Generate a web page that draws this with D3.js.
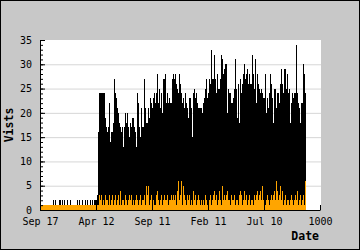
<!DOCTYPE html>
<html>
<head>
<meta charset="utf-8">
<script src="https://cdn.jsdelivr.net/npm/d3@7"></script>
<style>
  body { margin: 0; background: #c8c8c8; }
  svg { display: block; }
</style>
</head>
<body>
<svg id="chart" width="360" height="250"></svg>
<script>
// x axis runs in days 0..1000, one sample every 1000/280 days
const tickDays = [0, 200, 400, 600, 800, 1000];
const tickLabels = ["Sep 17", "Apr 12", "Sep 11", "Feb 11", "Jul 10", "1000"];
const sampleDays = 1000 / 280;

// total visits per sample (black)
const visits = [
  1,1,1,1,1,1,1,1,1,1,1,1,2,1,2,1,1,1,2,2,1,2,1,2,1,1,2,1,1,2,1,1,1,1,1,1,2,1,2,1,1,2,1,1,2,1,2,1,1,2,1,2,1,2,2,2,
  3,16,24,24,24,24,24,24,19,17,16,17,22,14,16,16,18,27,24,23,21,20,18,17,16,17,13,17,20,18,20,17,15,18,17,19,19,17,16,13,
  24,22,17,15,21,17,17,27,21,18,18,21,19,23,22,21,23,24,22,24,28,22,25,21,24,20,27,27,28,22,24,22,23,22,22,27,28,27,28,26,
  25,24,28,26,24,22,23,21,24,22,21,19,23,23,21,15,24,25,23,24,22,21,21,21,21,20,22,23,25,27,23,24,27,26,33,27,27,32,27,24,
  28,25,25,27,32,31,28,29,30,30,20,25,24,24,22,22,23,25,31,25,19,26,18,27,24,26,28,30,27,28,29,26,28,26,26,32,28,25,31,22,
  28,26,25,24,25,24,23,23,28,20,23,21,24,28,26,23,18,25,25,21,24,24,22,26,29,26,24,29,29,25,28,24,25,18,22,24,23,24,24,34,
  24,22,21,18,22,22,30,28,24
];

// unique visitors per sample (orange)
const unique = [
  1,1,1,1,1,1,1,1,1,1,1,1,1,1,1,1,1,1,1,1,1,1,1,1,1,1,1,1,1,1,1,1,1,1,1,1,1,1,1,1,1,1,1,1,1,1,1,1,1,1,1,1,1,1,1,1,
  1,1,3,2,3,1,2,1,3,2,2,1,3,1,2,3,1,2,3,1,2,3,1,4,1,2,2,1,3,2,1,2,3,2,3,1,2,1,2,3,
  2,1,2,3,1,2,2,3,1,5,3,5,1,2,3,1,2,1,1,3,4,2,1,2,3,1,2,3,2,2,3,1,2,2,3,2,3,2,3,1,
  4,6,2,3,6,1,5,3,2,1,3,2,3,1,2,1,4,2,3,1,2,3,2,1,2,1,2,1,3,2,1,1,2,3,1,2,3,4,2,3,
  1,2,4,2,1,5,2,3,2,3,4,2,2,1,3,2,2,3,1,2,2,1,3,4,3,1,2,4,2,3,1,2,3,1,2,2,1,3,2,3,
  4,2,3,4,2,5,2,1,1,2,3,2,1,2,3,2,3,4,2,6,4,2,3,5,2,4,1,2,3,1,2,2,1,2,3,2,1,2,3,2,
  4,1,2,3,1,2,3,1,6
];

const yMax = 35;

const width = 360, height = 250;
const margin = { top: 40, right: 40, bottom: 40, left: 40 };

const svg = d3.select("#chart");
const mono = "'DejaVu Sans Mono', monospace";

svg.append("rect")
  .attr("x", 0.5).attr("y", 0.5)
  .attr("width", width - 1).attr("height", height - 1)
  .attr("fill", "#c8c8c8")
  .attr("stroke", "#000");

const x = d3.scaleLinear()
  .domain([0, 1000])
  .range([margin.left, width - margin.right]);

const y = d3.scaleLinear()
  .domain([0, yMax])
  .range([height - margin.bottom, margin.top]);

// plot background
svg.append("rect")
  .attr("x", x(0))
  .attr("y", y(yMax))
  .attr("width", x(1000) - x(0) + 1)
  .attr("height", y(0) - y(yMax))
  .attr("fill", "#fff");

// grid
svg.append("g")
  .selectAll("line")
  .data(d3.range(5, yMax, 5))
  .join("line")
  .attr("x1", x(0))
  .attr("x2", x(1000) + 1)
  .attr("y1", d => y(d) + 0.5)
  .attr("y2", d => y(d) + 0.5)
  .attr("stroke", "#d6d6d6");

const barW = x(sampleDays) - x(0);
const dayOf = i => (i + 1) * sampleDays;

const bars = svg.append("g").attr("shape-rendering", "crispEdges");

bars.append("g")
  .selectAll("rect")
  .data(visits)
  .join("rect")
  .attr("x", (d, i) => x(dayOf(i)))
  .attr("width", barW)
  .attr("y", d => y(d))
  .attr("height", d => y(0) - y(d))
  .attr("fill", "#000");

bars.append("g")
  .selectAll("rect")
  .data(unique)
  .join("rect")
  .attr("x", (d, i) => x(dayOf(i)))
  .attr("width", barW)
  .attr("y", d => y(d))
  .attr("height", d => y(0) - y(d))
  .attr("fill", "#ffa500");

// y axis, ticks point inward
const yAxis = svg.append("g")
  .attr("transform", `translate(${margin.left},0)`)
  .call(d3.axisLeft(y).tickValues(d3.range(0, yMax + 1, 5)).tickSizeInner(-5).tickSizeOuter(0).tickPadding(8));

svg.append("g")
  .attr("transform", `translate(${margin.left},0)`)
  .call(d3.axisLeft(y).tickValues(d3.range(0, yMax + 1, 1)).tickSize(-3).tickFormat(""))
  .call(g => g.select(".domain").remove());

const xAxis = svg.append("g")
  .attr("transform", `translate(0,${height - margin.bottom})`)
  .call(d3.axisBottom(x).tickValues(tickDays).tickSizeInner(-5).tickSizeOuter(0).tickPadding(8)
    .tickFormat((d, i) => tickLabels[i]));

[yAxis, xAxis].forEach(g => g.attr("font-family", mono).attr("font-size", 10));

svg.append("text")
  .attr("transform", `translate(13,${(y(0) + y(yMax)) / 2}) rotate(-90)`)
  .attr("text-anchor", "middle")
  .attr("font-family", mono)
  .attr("font-weight", "bold")
  .attr("font-size", 11.5)
  .text("Vists");

svg.append("text")
  .attr("x", 319)
  .attr("y", 240)
  .attr("text-anchor", "end")
  .attr("font-family", mono)
  .attr("font-weight", "bold")
  .attr("font-size", 11.5)
  .text("Date");
</script>
</body>
</html>
